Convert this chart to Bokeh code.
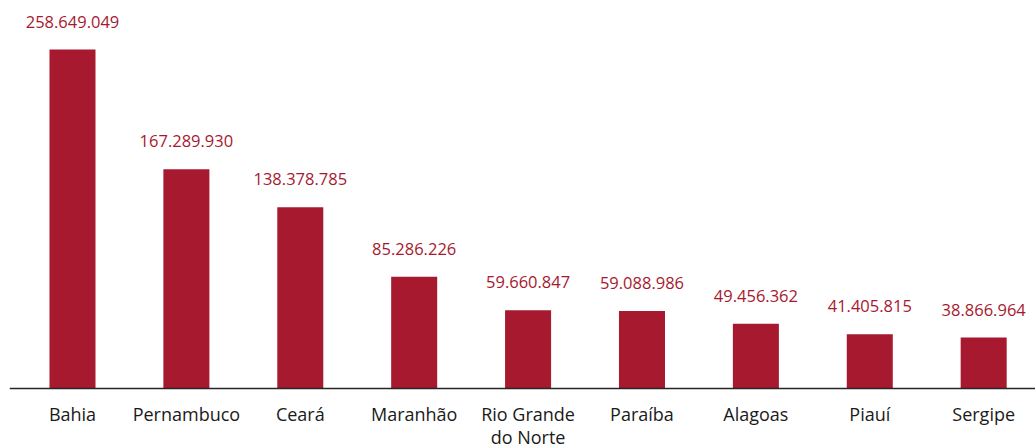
from bokeh.plotting import figure
from bokeh.models import ColumnDataSource, Range1d, Span
from bokeh.core.properties import value
from bokeh.embed import file_html
from bokeh.resources import INLINE

states = ["Bahia", "Pernambuco", "Ceará", "Maranhão", "Rio Grande\ndo Norte",
          "Paraíba", "Alagoas", "Piauí", "Sergipe"]
values = [258649049, 167289930, 138378785, 85286226, 59660847,
          59088986, 49456362, 41405815, 38866964]

BAR = "#A6192E"

xs = list(range(len(states)))
labels = [f"{v:,}".replace(",", ".") for v in values]
src = ColumnDataSource(dict(x=xs, top=values, label=labels, zero=[0] * len(xs), name=states))

p = figure(width=1035, height=448, output_backend="svg", toolbar_location=None,
           x_range=Range1d(-0.553, 8.455), y_range=Range1d(-45.78e6, 296.04e6),
           min_border_left=9, min_border_right=0, min_border_top=0, min_border_bottom=0,
           x_axis_location=None, y_axis_location=None)
p.vbar(x="x", top="top", width=0.404, source=src, color=BAR, line_color=None)
p.add_layout(Span(location=0, dimension="width", line_color="#262626", line_width=1.5))
p.text(x="x", y="top", text="label", source=src, text_align="center",
       text_baseline="middle", y_offset=-28, text_color=BAR,
       text_font=value("Open Sans"), text_font_size="16.5px")
p.text(x="x", y="zero", text="name", source=src, text_align="center",
       text_baseline="top", y_offset=14, text_color="#1a1a1a",
       text_font=value("Open Sans"), text_font_size="18px", text_line_height=0.93)

p.xgrid.visible = False
p.ygrid.visible = False
p.outline_line_color = None

open("out.html", "w").write(file_html(p, INLINE))
